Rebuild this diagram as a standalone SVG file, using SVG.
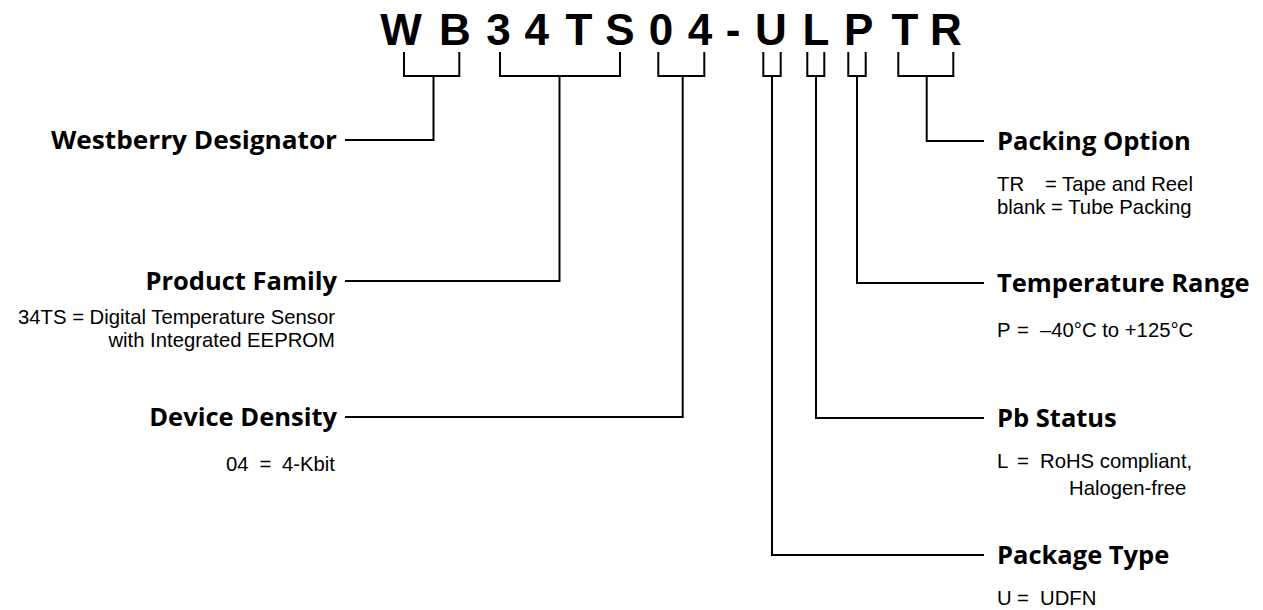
<svg xmlns="http://www.w3.org/2000/svg" width="1263" height="610" viewBox="0 0 1263 610">
<style>
.bg{fill:#ffffff}
.ln{fill:none;stroke:#000;stroke-width:2;stroke-linecap:square;stroke-linejoin:miter}
.pn{font-family:"Liberation Sans",Arial,sans-serif;font-weight:bold;font-size:44px;fill:#000;text-anchor:middle}
.lbl{font-family:"Open Sans","Noto Sans",sans-serif;font-weight:bold;font-size:25.5px;fill:#000}
.txt{font-family:"Liberation Sans",Arial,sans-serif;font-size:20.3px;fill:#000}
.r{text-anchor:end}
</style>
<rect class="bg" x="0" y="0" width="1263" height="610"/>
<g id="part-number">
<text class="pn" y="44.5"><tspan x="401">W</tspan><tspan x="455">B</tspan><tspan x="498.5">3</tspan><tspan x="536.7">4</tspan><tspan x="579">T</tspan><tspan x="620">S</tspan><tspan x="661">0</tspan><tspan x="700">4</tspan><tspan x="733">-</tspan><tspan x="771">U</tspan><tspan x="816">L</tspan><tspan x="858.7">P</tspan><tspan x="905">T</tspan><tspan x="946">R</tspan></text>
</g>
<g id="connectors">
<path class="ln" d="M404 53 V76 H459.3 V53"/>
<path class="ln" d="M433.5 76 V140 H346"/>
<path class="ln" d="M500 53 V76 H620 V53"/>
<path class="ln" d="M559.5 76 V281 H346"/>
<path class="ln" d="M658.3 53 V76 H704.3 V53"/>
<path class="ln" d="M682.7 76 V417 H346"/>
<path class="ln" d="M763.3 53 V76 H780.7 V53"/>
<path class="ln" d="M772 76 V555 H983"/>
<path class="ln" d="M807.3 53 V76 H824.3 V53"/>
<path class="ln" d="M816 76 V418 H983"/>
<path class="ln" d="M848.3 53 V76 H865.7 V53"/>
<path class="ln" d="M857 76 V283 H983"/>
<path class="ln" d="M898.3 53 V76 H953.3 V53"/>
<path class="ln" d="M926.7 76 V141 H983"/>
</g>
<g id="westberry-designator">
<text class="lbl r" x="337" y="149" textLength="286" lengthAdjust="spacingAndGlyphs">Westberry Designator</text>
</g>
<g id="product-family">
<text class="lbl r" x="337" y="290">Product Family</text>
<text class="txt r"><tspan x="335" y="324">34TS = Digital Temperature Sensor</tspan><tspan x="335" y="347">with Integrated EEPROM</tspan></text>
</g>
<g id="device-density">
<text class="lbl r" x="337" y="426">Device Density</text>
<text class="txt" y="471"><tspan x="226">04</tspan><tspan x="259.5">=</tspan><tspan x="282">4-Kbit</tspan></text>
</g>
<g id="packing-option">
<text class="lbl" x="997" y="150">Packing Option</text>
<text class="txt"><tspan x="997" y="191">TR</tspan><tspan x="1045" y="191">= Tape and Reel</tspan><tspan x="997" y="214">blank = Tube Packing</tspan></text>
</g>
<g id="temperature-range">
<text class="lbl" x="997" y="292">Temperature Range</text>
<text class="txt" y="337"><tspan x="997">P</tspan><tspan x="1017">=</tspan><tspan x="1040">–40°C to +125°C</tspan></text>
</g>
<g id="pb-status">
<text class="lbl" x="997" y="427">Pb Status</text>
<text class="txt"><tspan x="997" y="468">L</tspan><tspan x="1017" y="468">=</tspan><tspan x="1040" y="468">RoHS compliant,</tspan><tspan x="1069" y="495">Halogen-free</tspan></text>
</g>
<g id="package-type">
<text class="lbl" x="997" y="564">Package Type</text>
<text class="txt" y="605"><tspan x="997">U</tspan><tspan x="1017">=</tspan><tspan x="1040">UDFN</tspan></text>
</g>
</svg>
